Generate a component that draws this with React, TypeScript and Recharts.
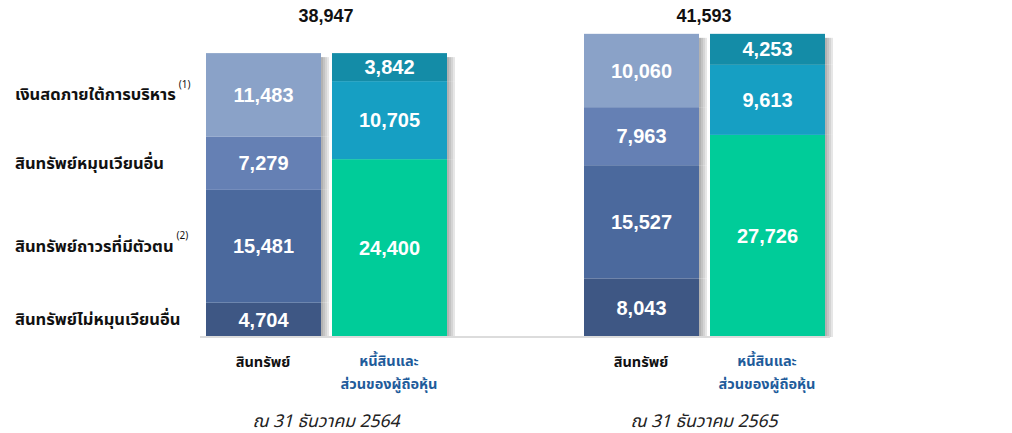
import React from "react";
import { BarChart, Bar, XAxis, YAxis, LabelList } from "recharts";

// ---- data ----
const periods = ["ณ 31 ธันวาคม 2564", "ณ 31 ธันวาคม 2565"];
const totals = [38947, 41593];
// assets (bottom -> top)
const otherNonCurrent = [4704, 8043];
const ppe = [15481, 15527];
const otherCurrent = [7279, 7963];
const managedCash = [11483, 10060];
// liabilities & equity (bottom -> top)
const equity = [24400, 27726];
const interestBearing = [10705, 9613];
const otherLiabilities = [3842, 4253];

const assetLabels = [
  "สินทรัพย์ไม่หมุนเวียนอื่น",
  "สินทรัพย์ถาวรที่มีตัวตน",
  "สินทรัพย์หมุนเวียนอื่น",
  "เงินสดภายใต้การบริหาร",
];
const assetNotes = ["", "(2)", "", "(1)"];
const liabLabels = ["ส่วนของผู้ถือหุ้นรวม", "หนี้สินที่มีภาระดอกเบี้ย", "หนี้สินอื่น"];
const liabNotes = ["", "(3)", ""];
const assetCategory = "สินทรัพย์";
const liabCategory = ["หนี้สินและ", "ส่วนของผู้ถือหุ้น"];

// ---- build table ----
type Row = { [k: string]: any };
const rows: Row[] = [];
periods.forEach((p, i) => {
  if (i > 0) rows.push({ key: "GAP", kind: "gap" });
  rows.push({
    key: `A${i}`, kind: "asset", period: i,
    a1: otherNonCurrent[i], a2: ppe[i], a3: otherCurrent[i], a4: managedCash[i],
  });
  rows.push({
    key: `L${i}`, kind: "liab", period: i,
    l1: equity[i], l2: interestBearing[i], l3: otherLiabilities[i],
  });
});

const midpoints = (vals: number[]) => {
  let acc = 0;
  return vals.map((v) => {
    const m = acc + v / 2;
    acc += v;
    return m;
  });
};
const leftTicks = midpoints([otherNonCurrent[0], ppe[0], otherCurrent[0], managedCash[0]]);
const rightTicks = midpoints([equity[1], interestBearing[1], otherLiabilities[1]]);

const THAI = "Tahoma, 'Leelawadee UI', 'Noto Sans Thai', 'Noto Sans', sans-serif";
const NUM = "Arial, 'Liberation Sans', sans-serif";

const COLORS = {
  a1: "#3E5784",
  a2: "#4B699D",
  a3: "#6580B4",
  a4: "#8AA2C8",
  l1: "#00CC99",
  l2: "#169FC3",
  l3: "#148CA7",
};

const shades = ["#b2b2b2", "#c3c3c3", "#d4d4d4", "#e6e6e6"];
const makeShape = (top: boolean) => (props: any) => {
  const { x, y, width, height, fill } = props;
  if (!height || height <= 0 || x == null) return <g />;
  const sy = top ? y + 4 : y;
  const sh = top ? height - 4 : height;
  return (
    <g>
      {shades.map((c, k) => (
        <rect key={k} x={x + width + k * 2} y={sy} width={2} height={Math.max(sh, 0)} fill={c} />
      ))}
      <rect x={x} y={y} width={width} height={height} fill={fill} />
    </g>
  );
};

const fmt = (v: any) => (v == null || v === "" ? "" : Number(v).toLocaleString("en-US"));

const BottomTick = (props: any) => {
  const { x, payload } = props;
  const row = rows[payload.index];
  if (!row || row.kind === "gap") return <g />;
  if (row.kind === "asset") {
    return (
      <text x={x} y={363} textAnchor="middle" dominantBaseline="central"
        fontFamily={THAI} fontSize={14.5} fontWeight="bold" fill="#111">
        {assetCategory}
      </text>
    );
  }
  const cx = x - payload.offset;
  return (
    <g>
      <text x={x} y={362} textAnchor="middle" dominantBaseline="central"
        fontFamily={THAI} fontSize={14.5} fontWeight="bold" fill="#1F5C9B">
        {liabCategory[0]}
      </text>
      <text x={x} y={385} textAnchor="middle" dominantBaseline="central"
        fontFamily={THAI} fontSize={14.5} fontWeight="bold" fill="#1F5C9B">
        {liabCategory[1]}
      </text>
      <text x={cx} y={421} textAnchor="middle" dominantBaseline="central"
        fontFamily={THAI} fontSize={17.5} fontStyle="italic" fill="#222">
        {periods[row.period]}
      </text>
    </g>
  );
};

const TopTick = (props: any) => {
  const { x, payload } = props;
  const row = rows[payload.index];
  if (!row || row.kind !== "liab") return <g />;
  return (
    <text x={x - payload.offset} y={16} textAnchor="middle" dominantBaseline="central"
      fontFamily={NUM} fontSize={18} fontWeight="bold" fill="#111">
      {fmt(totals[row.period])}
    </text>
  );
};

const LeftTick = (props: any) => {
  const { y, index } = props;
  return (
    <text x={15} y={y} textAnchor="start" dominantBaseline="central"
      fontFamily={THAI} fontSize={16.5} fontWeight="bold" fill="#111">
      {assetLabels[index]}
      {assetNotes[index] ? (
        <tspan fontSize={10} fontWeight="normal" dx={3} dy={-10}>{assetNotes[index]}</tspan>
      ) : null}
    </text>
  );
};

const RightTick = (props: any) => {
  const { y, index } = props;
  return (
    <text x={838} y={y} textAnchor="start" dominantBaseline="central"
      fontFamily={THAI} fontSize={16.5} fontWeight="bold" fill="#111">
      {liabLabels[index]}
      {liabNotes[index] ? (
        <tspan fontSize={10} fontWeight="normal" dx={3} dy={-10}>{liabNotes[index]}</tspan>
      ) : null}
    </text>
  );
};

const series: { key: keyof typeof COLORS; top: boolean }[] = [
  { key: "a1", top: false },
  { key: "a2", top: false },
  { key: "a3", top: false },
  { key: "a4", top: true },
  { key: "l1", top: false },
  { key: "l2", top: false },
  { key: "l3", top: true },
];

export default function App() {
  return (
    <div style={{ position: "absolute", left: 0, top: 0, width: 1012, height: 433, background: "#fff" }}>
      <BarChart
        width={1012}
        height={433}
        data={rows}
        margin={{ top: 0, right: 0, bottom: 0, left: 0 }}
        barSize={115}
      >
        <XAxis
          xAxisId="top"
          orientation="top"
          dataKey="key"
          height={9}
          axisLine={false}
          tickLine={false}
          tick={<TopTick />}
          interval={0}
        />
        <XAxis
          dataKey="key"
          height={96}
          axisLine={{ stroke: "#DCDCDC", strokeWidth: 2 }}
          tickLine={false}
          tick={<BottomTick />}
          interval={0}
        />
        <YAxis
          yAxisId="left"
          orientation="left"
          width={200}
          domain={[0, 45000]}
          ticks={leftTicks}
          axisLine={false}
          tickLine={false}
          tick={<LeftTick />}
          interval={0}
        />
        <YAxis
          yAxisId="right"
          orientation="right"
          width={182}
          domain={[0, 45000]}
          ticks={rightTicks}
          axisLine={false}
          tickLine={false}
          tick={<RightTick />}
          interval={0}
        />
        {series.map((s) => (
          <Bar
            key={s.key}
            dataKey={s.key}
            stackId="s"
            yAxisId="left"
            fill={COLORS[s.key]}
            shape={makeShape(s.top)}
            isAnimationActive={false}
          >
            <LabelList
              dataKey={s.key}
              position="center"
              formatter={fmt}
              fill="#FFFFFF"
              fontSize={20}
              fontWeight="bold"
              fontFamily={NUM}
            />
          </Bar>
        ))}
      </BarChart>
    </div>
  );
}
